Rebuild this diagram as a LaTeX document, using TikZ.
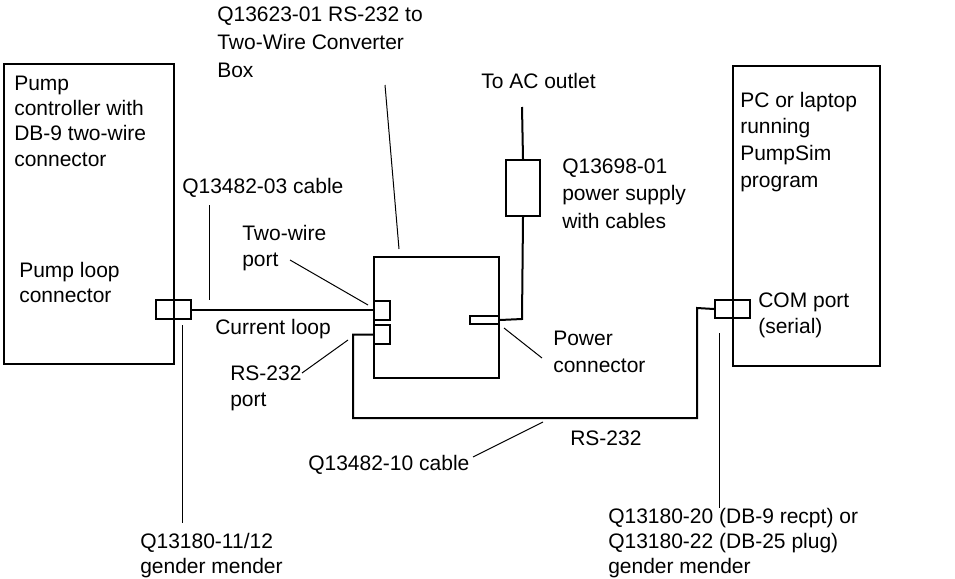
\documentclass[tikz,border=0pt]{standalone}
\usepackage{fontspec}
\setmainfont{Liberation Sans}
\begin{document}
\begin{tikzpicture}[x=0.75pt,y=-0.75pt,
  box/.style={draw,line width=1.5pt,inner sep=0pt},
  cable/.style={line width=1.5pt},
  lead/.style={line width=0.75pt},
  lb/.style={font=\fontsize{15.75pt}{#1}\selectfont,align=left,inner sep=0pt,anchor=base west},
  lb/.default=19.5pt]
\useasboundingbox (0,0) rectangle (955,578);
% boxes
\node[box,minimum width=170*0.75pt,minimum height=300*0.75pt,anchor=north west] (pump) at (3,63) {};
\node[box,minimum width=147*0.75pt,minimum height=300*0.75pt,anchor=north west] (pc) at (732,65) {};
\node[box,minimum width=125*0.75pt,minimum height=121*0.75pt,anchor=north west] (conv) at (373,256) {};
\node[box,minimum width=34*0.75pt,minimum height=56*0.75pt,anchor=north west] (psu) at (505,159) {};
\node[box,minimum width=35*0.75pt,minimum height=19*0.75pt,anchor=north west] (lconn) at (155,299) {};
\node[box,minimum width=35*0.75pt,minimum height=18*0.75pt,anchor=north west] (rconn) at (714,299) {};
\node[box,minimum width=16*0.75pt,minimum height=19*0.75pt,anchor=north west] (twport) at (373,300) {};
\node[box,minimum width=16*0.75pt,minimum height=19*0.75pt,anchor=north west] (rsport) at (373,324) {};
\node[box,minimum width=29*0.75pt,minimum height=8*0.75pt,anchor=north west] (pwrconn) at (469,315) {};
% free ends
\coordinate (ac) at (522,107);
\coordinate (pwrcorner) at (522,319);
% cables
\draw[cable] (lconn.east) -- (lconn.east -| twport.west);
\draw[cable] (rsport.west) -| (353,418) -| (697,308) -- (rconn.west);
\draw[cable] (pwrconn.east) -- (pwrcorner) -- (psu.south);
\draw[cable] (psu.north) -- (ac);
% leaders
\draw[lead] (209,205) -- (209,300);
\draw[lead] (182,325) -- (182,523);
\draw[lead] (719,333) -- (719,508);
\draw[lead] (385,85) -- (399,249);
\draw[lead] (290,260) -- (368,305);
\draw[lead] (302,373) -- (348,340);
\draw[lead] (504,328) -- (542,358);
\draw[lead] (473,457) -- (543,422);
% texts (anchor = baseline of last line)
\node[lb=21pt] (tconv) at (217,77) {Q13623-01 RS-232 to\\Two-Wire Converter\\Box};
\node[lb] (tac) at (481,88) {To AC outlet};
\node[lb=20.6pt] (tpsu) at (562,228) {Q13698-01\\power supply\\with cables};
\node[lb=19pt] (tpump) at (14,166) {Pump\\controller with\\DB-9 two-wire\\connector};
\node[lb=18.75pt] (tloop) at (19,302) {Pump loop\\connector};
\node[lb] (tc03) at (182,193) {Q13482-03 cable};
\node[lb=19.5pt] (ttw) at (242,266) {Two-wire\\port};
\node[lb] (tcl) at (215,334) {Current loop};
\node[lb=19.5pt] (trsp) at (230,406) {RS-232\\port};
\node[lb=20.25pt] (tpwr) at (553,372) {Power\\connector};
\node[lb=19.9pt] (tpc) at (740,187) {PC or laptop\\running\\PumpSim\\program};
\node[lb=19.5pt] (tcom) at (758,333) {COM port\\(serial)};
\node[lb] (trs) at (570,445) {RS-232};
\node[lb] (tc10) at (308,470) {Q13482-10 cable};
\node[lb=18.75pt] (tgm1) at (140,573) {Q13180-11/12\\gender mender};
\node[lb=18.75pt] (tgm2) at (608,573) {Q13180-20 (DB-9 recpt) or\\Q13180-22 (DB-25 plug)\\gender mender};
\end{tikzpicture}
\end{document}
